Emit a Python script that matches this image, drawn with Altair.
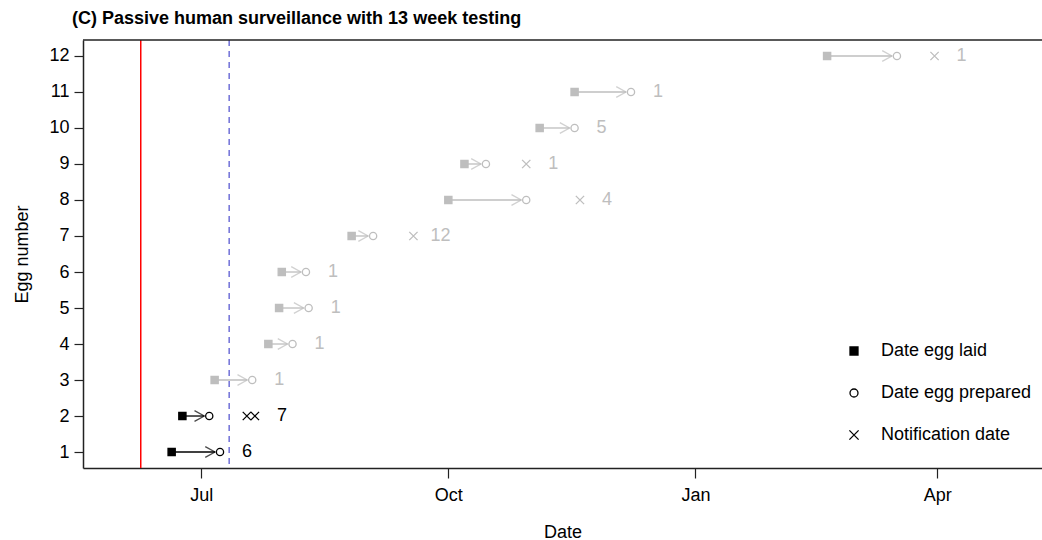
import altair as alt
import pandas as pd

# ---------------- data ----------------
eggs = [1, 2, 3, 4, 5, 6, 7, 8, 9, 10, 11, 12]
date_laid = ["2016-06-20", "2016-06-24", "2016-07-06", "2016-07-26", "2016-07-30", "2016-07-31",
             "2016-08-26", "2016-10-01", "2016-10-07", "2016-11-04", "2016-11-17", "2017-02-19"]
date_prepared = ["2016-07-08", "2016-07-04", "2016-07-20", "2016-08-04", "2016-08-10", "2016-08-09",
                 "2016-09-03", "2016-10-30", "2016-10-15", "2016-11-17", "2016-12-08", "2017-03-17"]
notif_eggs = [2, 2, 7, 8, 9, 12]
notif_dates = ["2016-07-18", "2016-07-21", "2016-09-18", "2016-11-19", "2016-10-30", "2017-03-31"]
counts = [6, 7, 1, 1, 1, 1, 12, 4, 1, 5, 1, 1]
black_eggs = [1, 2]
kinds = ["Date egg laid", "Date egg prepared", "Notification date"]
red_line_date = ["2016-06-08T12:00:00Z"]
blue_line_date = ["2016-07-11T10:00:00Z"]
x_ticks = [(2016, 7), (2016, 10), (2017, 1), (2017, 4)]
y_ticks = [1, 2, 3, 4, 5, 6, 7, 8, 9, 10, 11, 12]

BLACK = "#000000"
GREY = "#bebebe"
FONT = "Liberation Sans"
FS = 18


def col(e):
    return BLACK if e in black_eggs else GREY


seg = pd.DataFrame({"egg": eggs, "laid": date_laid, "prep": date_prepared,
                    "col": [col(e) for e in eggs]})

rows = []
for e, d in zip(eggs, date_laid):
    rows.append({"egg": e, "date": d, "kind": kinds[0]})
for e, d in zip(eggs, date_prepared):
    rows.append({"egg": e, "date": d, "kind": kinds[1]})
for e, d in zip(notif_eggs, notif_dates):
    rows.append({"egg": e, "date": d, "kind": kinds[2]})
pts = pd.DataFrame(rows)
pts["col"] = [col(e) for e in pts["egg"]]
pts["fillc"] = [c if k == kinds[0] else "transparent" for c, k in zip(pts["col"], pts["kind"])]
pts_black = pts[pts["col"] == BLACK]
pts_grey = pts[pts["col"] == GREY]

# label anchor: last event of each egg
last = {}
for e, d in zip(eggs, date_prepared):
    last[e] = pd.Timestamp(d)
for e, d in zip(notif_eggs, notif_dates):
    last[e] = max(last[e], pd.Timestamp(d))
lab = pd.DataFrame({"egg": eggs, "date": [last[e].strftime("%Y-%m-%d") for e in eggs],
                    "n": [str(c) for c in counts], "col": [col(e) for e in eggs]})

W, H = 959, 428
xscale = alt.Scale(type="utc",
                   domain=[alt.DateTime(year=2016, month=5, date=18, utc=True),
                           alt.DateTime(year=2017, month=5, date=10, utc=True)])
yscale = alt.Scale(domain=[0.556, 12.444], nice=False, zero=False)

axis_common = dict(grid=False, domainWidth=1.5, domainColor="#222222",
                   tickColor="#222222", tickWidth=1.2,
                   labelFont=FONT, titleFont=FONT, labelFontSize=FS, titleFontSize=FS,
                   labelColor="#000000", titleColor="#000000", titleFontWeight="normal")
xaxis = alt.Axis(values=[alt.DateTime(year=y, month=m, date=1, utc=True) for y, m in x_ticks],
                 format="%b", title="Date", tickSize=10, labelPadding=8,
                 titlePadding=19, **axis_common)
yaxis = alt.Axis(values=y_ticks, title="Egg number", tickSize=9, labelPadding=5,
                 titlePadding=17, **axis_common)

X_SHAPE = "M-1.15,-1.15L1.15,1.15M-1.15,1.15L1.15,-1.15"
shape_scale = alt.Scale(domain=kinds, range=["square", "circle", X_SHAPE])
leg = alt.Legend(orient="none", legendX=762, legendY=302, title=None, padding=0,
                 labelFontSize=FS, labelFont=FONT, labelColor="#000000",
                 symbolSize=64, symbolStrokeWidth=1.3, rowPadding=24, labelOffset=18)


def X(field):
    return alt.X(field, type="temporal", scale=xscale, axis=xaxis)


def Y(field):
    return alt.Y(field, type="quantitative", scale=yscale, axis=yaxis)


red = alt.Chart(pd.DataFrame({"d": red_line_date})).mark_rule(
    color="#ff0000", strokeWidth=1.5).encode(x=X("d"))
blue = alt.Chart(pd.DataFrame({"d": blue_line_date})).mark_rule(
    color="#7070d8", strokeWidth=1.5, strokeDash=[6, 5]).encode(x=X("d"))

lines = alt.Chart(seg).mark_rule(strokeWidth=1.3, x2Offset=-5).encode(
    x=X("laid"), x2="prep", y=Y("egg"),
    color=alt.Color("col:N", scale=None),
)
heads = alt.Chart(seg).mark_point(shape="M-1,-0.55L0,0L-1,0.55", size=380, strokeWidth=1.3,
                                  xOffset=-5, filled=False).encode(
    x=X("prep"), y=Y("egg"),
    color=alt.Color("col:N", scale=None),
)

pts_a = alt.Chart(pts_black).mark_point(size=52, strokeWidth=1.3, opacity=1).encode(
    x=X("date"), y=Y("egg"),
    shape=alt.Shape("kind:N", scale=shape_scale, legend=leg),
    fill=alt.Fill("kind:N", scale=alt.Scale(domain=kinds, range=[BLACK, "transparent", "transparent"]), legend=leg),
    stroke=alt.Stroke("kind:N", scale=alt.Scale(domain=kinds, range=[BLACK, BLACK, BLACK]), legend=leg),
)
pts_b = alt.Chart(pts_grey).mark_point(size=52, strokeWidth=1.3, opacity=1).encode(
    x=X("date"), y=Y("egg"),
    shape=alt.Shape("kind:N", scale=shape_scale, legend=leg),
    fill=alt.Fill("fillc:N", scale=None),
    stroke=alt.Stroke("col:N", scale=None),
)

labels = alt.Chart(lab).mark_text(dx=27, align="center", baseline="middle",
                                  font=FONT, fontSize=FS).encode(
    x=X("date"), y=Y("egg"),
    text="n:N",
    color=alt.Color("col:N", scale=None),
)

top_border = alt.Chart(pd.DataFrame({"a": [0]})).mark_rule(
    color="#222222", strokeWidth=1.5).encode(
    x=alt.value(0), x2=alt.value(W), y=alt.value(0))

chart = alt.layer(red, blue, lines, heads, pts_a, pts_b, labels, top_border).properties(
    width=W, height=H,
    background="white",
    title=alt.TitleParams("(C) Passive human surveillance with 13 week testing",
                          anchor="start", frame="group", dx=-11, offset=11,
                          font=FONT, fontSize=FS, fontWeight="bold", color="#000000"),
    autosize=alt.AutoSizeParams(type="none"),
    padding={"left": 83, "top": 40, "right": 0, "bottom": 72},
).configure_view(stroke=None)

chart.save("out.html", embed_options={"renderer": "svg", "actions": False})
